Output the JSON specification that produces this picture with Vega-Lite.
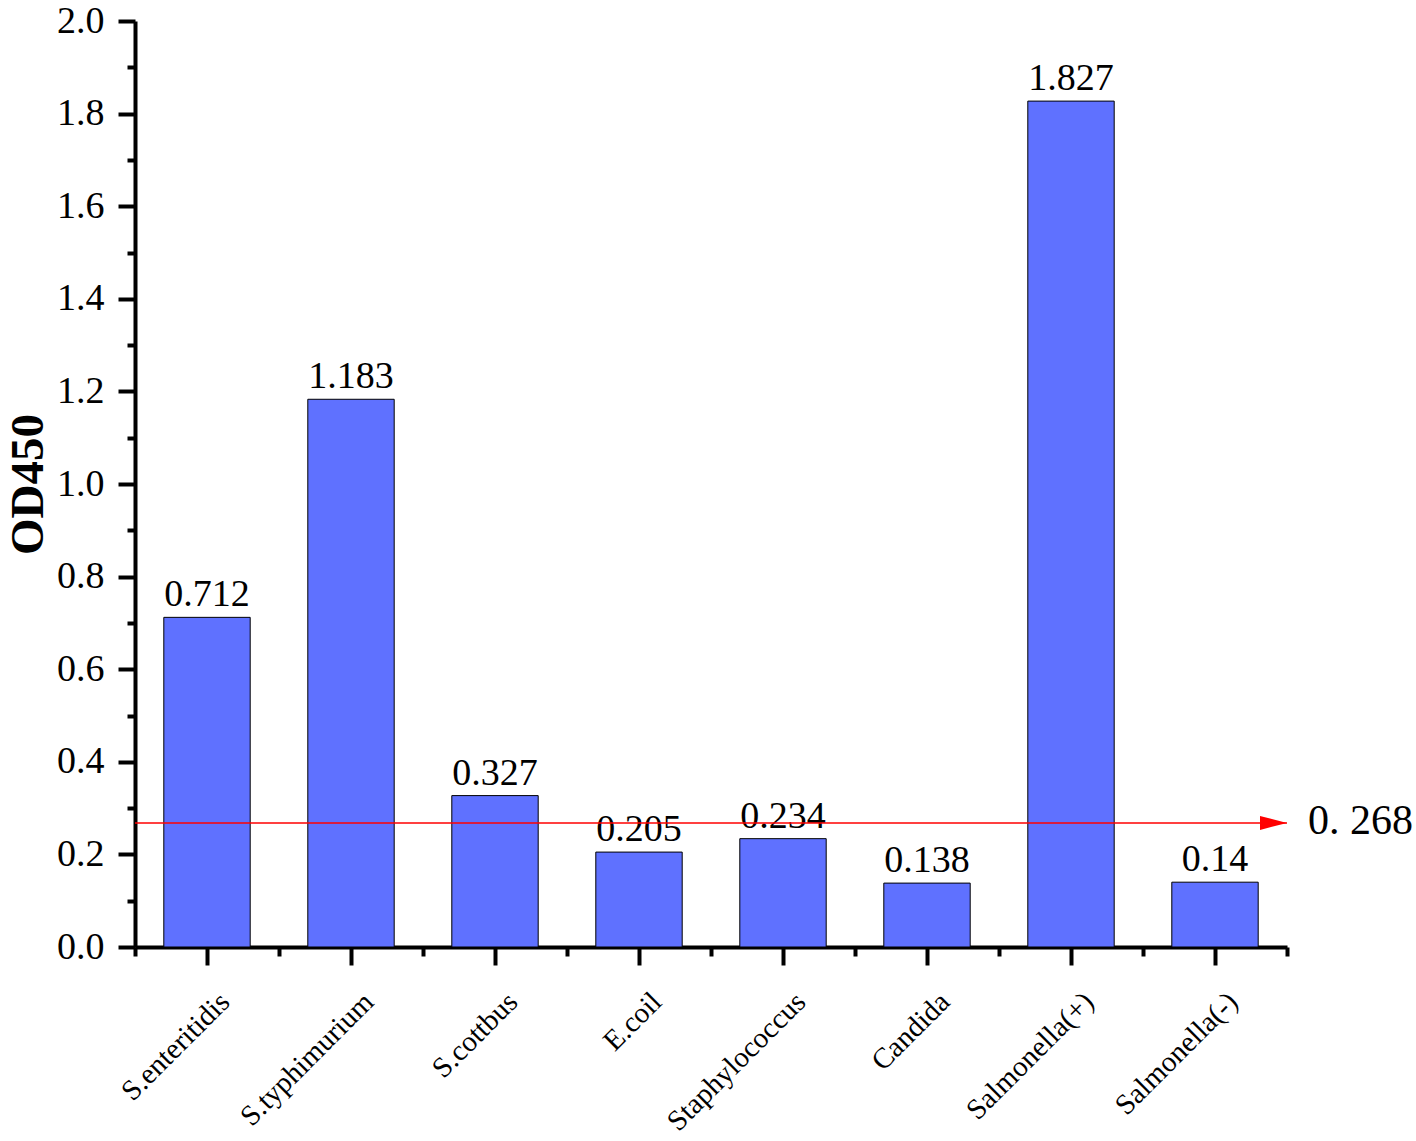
{
  "$schema": "https://vega.github.io/schema/vega-lite/v6.json",
  "autosize": {"type": "none"},
  "padding": {"left": 135, "top": 21, "right": 129, "bottom": 194},
  "width": 1152,
  "height": 926,
  "background": "white",
  "config": {"view": {"stroke": null}},
  "datasets": {
    "bars": [
      {"name": "S.enteritidis", "value": 0.712},
      {"name": "S.typhimurium", "value": 1.183},
      {"name": "S.cottbus", "value": 0.327},
      {"name": "E.coil", "value": 0.205},
      {"name": "Staphylococcus", "value": 0.234},
      {"name": "Candida", "value": 0.138},
      {"name": "Salmonella(+)", "value": 1.827},
      {"name": "Salmonella(-)", "value": 0.14}
    ],
    "threshold": [
      {"name": "Salmonella(-)", "value": 0.268, "label": "0. 268"}
    ]
  },
  "resolve": {"axis": {"x": "independent"}},
  "layer": [
    {
      "data": {"name": "bars"},
      "mark": {"type": "bar", "width": {"band": 0.6}, "fill": "#5F71FF", "stroke": "black", "strokeWidth": 1},
      "encoding": {
        "x": {
          "field": "name", "type": "nominal", "sort": null,
          "scale": {"paddingInner": 0, "paddingOuter": 0},
          "axis": {
            "orient": "bottom", "title": null, "labelAngle": -45, "labelLimit": 0,
            "labelFont": "Liberation Serif", "labelFontSize": 29, "labelColor": "black",
            "tickSize": 18, "tickWidth": 4, "tickColor": "black",
            "domainWidth": 4, "domainColor": "black", "labelPadding": 22, "labelOffset": 8
          }
        },
        "y": {
          "field": "value", "type": "quantitative",
          "scale": {"domain": [0, 2], "nice": false},
          "axis": {
            "values": [0, 0.1, 0.2, 0.3, 0.4, 0.5, 0.6, 0.7, 0.8, 0.9, 1.0, 1.1, 1.2, 1.3, 1.4, 1.5, 1.6, 1.7, 1.8, 1.9, 2.0],
            "labelExpr": "round(datum.value*10)%2==0 ? format(datum.value,'.1f') : ''",
            "tickSize": {"condition": {"test": "round(datum.value*10)%2==0", "value": 17}, "value": 8},
            "tickWidth": 4, "tickColor": "black", "domainWidth": 4, "domainColor": "black",
            "labelFont": "Liberation Serif", "labelFontSize": 38, "labelColor": "black", "labelPadding": 14,
            "grid": false,
            "title": "OD450", "titleFont": "Liberation Serif", "titleFontSize": 47, "titleFontWeight": "bold",
            "titleColor": "black", "titlePadding": 4
          }
        }
      }
    },
    {
      "data": {"name": "bars"},
      "mark": {"type": "text", "font": "Liberation Serif", "fontSize": 38, "color": "black", "baseline": "alphabetic", "dy": -11},
      "encoding": {
        "x": {
          "field": "name", "type": "nominal", "sort": null,
          "axis": {
            "orient": "bottom", "title": null, "labels": false, "domain": false,
            "bandPosition": 1, "tickExtra": true,
            "tickSize": 9, "tickWidth": 4, "tickColor": "black"
          }
        },
        "y": {"field": "value", "type": "quantitative"},
        "text": {"field": "value", "type": "quantitative"}
      }
    },
    {
      "data": {"name": "threshold"},
      "mark": {"type": "rule", "color": "#FF0000", "strokeWidth": 1.5},
      "encoding": {"y": {"field": "value", "type": "quantitative"}}
    },
    {
      "data": {"name": "threshold"},
      "mark": {"type": "point", "shape": "M-2,-0.52L0,0L-2,0.52Z", "size": 729, "filled": true, "color": "#FF0000", "opacity": 1},
      "encoding": {
        "x": {"field": "name", "type": "nominal", "sort": null, "bandPosition": 1, "axis": null},
        "y": {"field": "value", "type": "quantitative"}
      }
    },
    {
      "data": {"name": "threshold"},
      "mark": {"type": "text", "font": "Liberation Serif", "fontSize": 42, "color": "black", "align": "left", "baseline": "middle", "dx": 21, "dy": -2},
      "encoding": {
        "x": {"field": "name", "type": "nominal", "sort": null, "bandPosition": 1, "axis": null},
        "y": {"field": "value", "type": "quantitative"},
        "text": {"field": "label"}
      }
    }
  ]
}
